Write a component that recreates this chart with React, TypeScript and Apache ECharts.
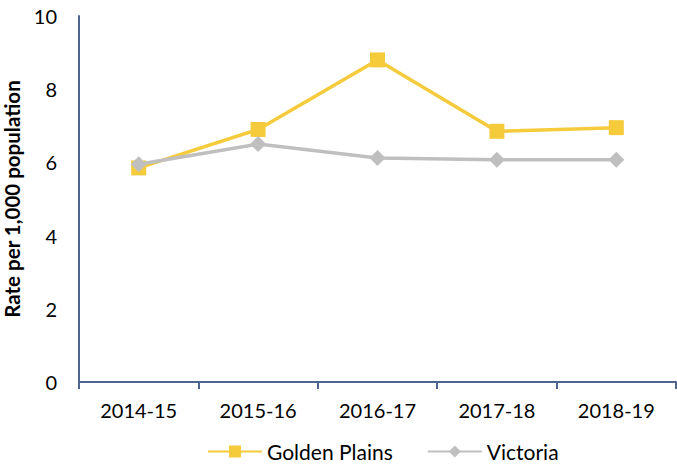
import React, { useEffect, useRef } from "react";
import * as echarts from "echarts";

const categories = ["2014-15", "2015-16", "2016-17", "2017-18", "2018-19"];
const goldenPlains = [5.85, 6.9, 8.8, 6.85, 6.95];
const victoria = [5.95, 6.5, 6.12, 6.07, 6.07];
const yTicks = { min: 0, max: 10, interval: 2 };

const FONT = "Lato, 'Open Sans', sans-serif";

export default function App() {
  const ref = useRef<HTMLDivElement>(null);
  useEffect(() => {
    if (!ref.current) return;
    const chart = echarts.init(ref.current, null, { renderer: "svg" });
    chart.setOption({
      animation: false,
      textStyle: { fontFamily: FONT },
      grid: { left: 79, right: 1, top: 16, bottom: 83, containLabel: false, outerBoundsMode: "none" },
      legend: {
        top: 436,
        left: 202,
        itemWidth: 54,
        itemHeight: 15,
        itemGap: 34,
        textStyle: { fontSize: 21, color: "#000", fontFamily: FONT },
        data: ["Golden Plains", "Victoria"],
      },
      xAxis: {
        type: "category",
        data: categories,
        axisLine: { lineStyle: { color: "#4F6590", width: 2 } },
        axisTick: { show: true, length: 7, lineStyle: { color: "#4F6590", width: 2 } },
        axisLabel: { fontSize: 20, color: "#000", margin: 18, fontFamily: FONT },
      },
      yAxis: {
        type: "value",
        min: yTicks.min,
        max: yTicks.max,
        interval: yTicks.interval,
        name: "Rate per 1,000 population",
        nameLocation: "middle",
        nameGap: 55,
        nameTextStyle: { fontSize: 20.5, fontWeight: "bold", color: "#000", fontFamily: FONT },
        axisLine: { show: true, lineStyle: { color: "#4F6590", width: 2 } },
        axisTick: { show: false },
        splitLine: { show: false },
        axisLabel: { fontSize: 20, color: "#000", margin: 22, fontFamily: FONT },
      },
      series: [
        {
          name: "Golden Plains",
          type: "line",
          data: goldenPlains,
          symbol: "rect",
          symbolSize: 15,
          itemStyle: { color: "#F5CB3C" },
          lineStyle: { color: "#F5CB3C", width: 3.5 },
          z: 3,
        },
        {
          name: "Victoria",
          type: "line",
          data: victoria,
          symbol: "diamond",
          symbolSize: 16,
          itemStyle: { color: "#BFBFBF" },
          lineStyle: { color: "#BFBFBF", width: 3.5 },
          z: 4,
        },
      ],
    });
    return () => chart.dispose();
  }, []);
  return <div ref={ref} style={{ width: 677, height: 465, position: "absolute", left: 0, top: 0 }} />;
}
